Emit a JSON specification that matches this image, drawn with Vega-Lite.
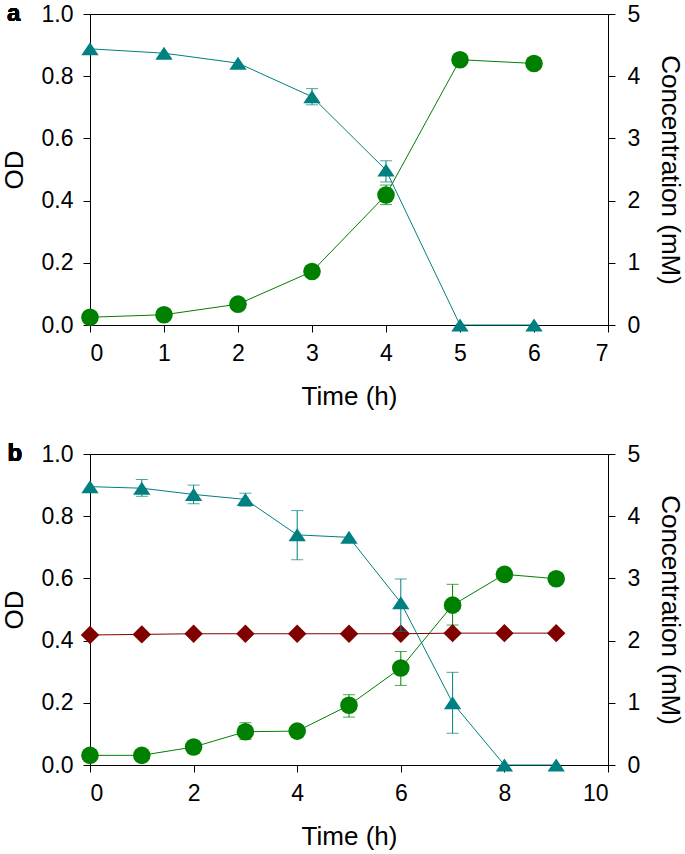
{
  "$schema": "https://vega.github.io/schema/vega-lite/v6.json",
  "background": "white",
  "padding": {"left": 0, "top": 1, "right": 2, "bottom": 2},
  "config": {
    "font": "Liberation Sans",
    "view": {"stroke": "black", "strokeWidth": 1},
    "axis": {
      "grid": false,
      "domainColor": "black",
      "tickColor": "black",
      "labelColor": "black",
      "titleColor": "black",
      "labelFont": "Liberation Sans",
      "titleFont": "Liberation Sans",
      "labelFontSize": 23,
      "titleFontSize": 26,
      "titleFontWeight": "normal",
      "tickSize": 7,
      "labelPadding": 10,
      "domainWidth": 1,
      "tickWidth": 1
    },
    "concat": {"spacing": 31}
  },
  "data": {
    "values": [
      {"panel": "a", "series": "OD", "t": 0, "v": 0.025},
      {"panel": "a", "series": "OD", "t": 1, "v": 0.033},
      {"panel": "a", "series": "OD", "t": 2, "v": 0.067},
      {"panel": "a", "series": "OD", "t": 3, "v": 0.172},
      {"panel": "a", "series": "OD", "t": 4, "v": 0.418, "lo": 0.387, "hi": 0.45},
      {"panel": "a", "series": "OD", "t": 5, "v": 0.853},
      {"panel": "a", "series": "OD", "t": 6, "v": 0.841},
      {"panel": "a", "series": "Substrate", "t": 0, "v": 4.44},
      {"panel": "a", "series": "Substrate", "t": 1, "v": 4.37},
      {"panel": "a", "series": "Substrate", "t": 2, "v": 4.21},
      {"panel": "a", "series": "Substrate", "t": 3, "v": 3.67, "lo": 3.54, "hi": 3.8},
      {"panel": "a", "series": "Substrate", "t": 4, "v": 2.49, "lo": 2.3, "hi": 2.64},
      {"panel": "a", "series": "Substrate", "t": 5, "v": 0},
      {"panel": "a", "series": "Substrate", "t": 6, "v": 0},
      {"panel": "b", "series": "OD", "t": 0, "v": 0.031},
      {"panel": "b", "series": "OD", "t": 1, "v": 0.031},
      {"panel": "b", "series": "OD", "t": 2, "v": 0.058},
      {"panel": "b", "series": "OD", "t": 3, "v": 0.107, "lo": 0.082, "hi": 0.136},
      {"panel": "b", "series": "OD", "t": 4, "v": 0.109},
      {"panel": "b", "series": "OD", "t": 5, "v": 0.192, "lo": 0.154, "hi": 0.226},
      {"panel": "b", "series": "OD", "t": 6, "v": 0.312, "lo": 0.256, "hi": 0.365},
      {"panel": "b", "series": "OD", "t": 7, "v": 0.514, "lo": 0.45, "hi": 0.581},
      {"panel": "b", "series": "OD", "t": 8, "v": 0.613},
      {"panel": "b", "series": "OD", "t": 9, "v": 0.599},
      {"panel": "b", "series": "Substrate", "t": 0, "v": 4.475},
      {"panel": "b", "series": "Substrate", "t": 1, "v": 4.45, "lo": 4.32, "hi": 4.59},
      {"panel": "b", "series": "Substrate", "t": 2, "v": 4.35, "lo": 4.2, "hi": 4.5},
      {"panel": "b", "series": "Substrate", "t": 3, "v": 4.27, "lo": 4.16, "hi": 4.37},
      {"panel": "b", "series": "Substrate", "t": 4, "v": 3.7, "lo": 3.3, "hi": 4.09},
      {"panel": "b", "series": "Substrate", "t": 5, "v": 3.66},
      {"panel": "b", "series": "Substrate", "t": 6, "v": 2.61, "lo": 2.15, "hi": 2.99},
      {"panel": "b", "series": "Substrate", "t": 7, "v": 1.0, "lo": 0.51, "hi": 1.49},
      {"panel": "b", "series": "Substrate", "t": 8, "v": 0},
      {"panel": "b", "series": "Substrate", "t": 9, "v": 0},
      {"panel": "b", "series": "Compound", "t": 0, "v": 2.09},
      {"panel": "b", "series": "Compound", "t": 1, "v": 2.1},
      {"panel": "b", "series": "Compound", "t": 2, "v": 2.11},
      {"panel": "b", "series": "Compound", "t": 3, "v": 2.11},
      {"panel": "b", "series": "Compound", "t": 4, "v": 2.11},
      {"panel": "b", "series": "Compound", "t": 5, "v": 2.11},
      {"panel": "b", "series": "Compound", "t": 6, "v": 2.11},
      {"panel": "b", "series": "Compound", "t": 7, "v": 2.12},
      {"panel": "b", "series": "Compound", "t": 8, "v": 2.12},
      {"panel": "b", "series": "Compound", "t": 9, "v": 2.12}
    ]
  },
  "vconcat": [
    {
      "width": 518,
      "height": 311,
      "transform": [{"filter": "datum.panel == 'a'"}],
      "encoding": {
        "x": {"field": "t", "type": "quantitative", "scale": {"domain": [0, 7], "nice": false, "zero": false},
              "axis": {"title": "Time (h)", "values": [0, 1, 2, 3, 4, 5, 6, 7], "titlePadding": 18}}
      },
      "layer": [
        {
          "transform": [{"filter": "datum.series == 'OD'"}],
          "encoding": {
            "y": {"field": "v", "type": "quantitative", "scale": {"domain": [0, 1], "nice": false},
                  "axis": {"title": "OD", "values": [0, 0.2, 0.4, 0.6, 0.8, 1.0], "format": ".1f", "titlePadding": 14}}
          },
          "layer": [
            {"mark": {"type": "line", "color": "#008000", "strokeWidth": 1}},
            {"transform": [{"filter": "isValid(datum.lo)"}],
             "mark": {"type": "errorbar", "ticks": {"size": 12}, "color": "#008000", "thickness": 1},
             "encoding": {"y": {"field": "lo", "type": "quantitative"}, "y2": {"field": "hi"}}},
            {"mark": {"type": "point", "shape": "circle", "filled": true, "opacity": 1, "size": 310, "color": "#008000"}},
            {"mark": {"type": "text", "text": "a", "fontSize": 24, "fontWeight": "bold", "align": "center", "baseline": "alphabetic", "color": "black"},
             "encoding": {"x": {"datum": -1.03}, "y": {"datum": 0.977}}}
          ]
        },
        {
          "transform": [{"filter": "datum.series == 'Substrate'"}],
          "encoding": {
            "y": {"field": "v", "type": "quantitative", "scale": {"domain": [0, 5], "nice": false},
                  "axis": {"orient": "right", "title": "Concentration (mM)", "values": [0, 1, 2, 3, 4, 5], "labelPadding": 12, "titlePadding": 17}}
          },
          "layer": [
            {"mark": {"type": "line", "color": "#008080", "strokeWidth": 1}},
            {"transform": [{"filter": "isValid(datum.lo)"}],
             "mark": {"type": "errorbar", "ticks": {"size": 12}, "color": "#008080", "thickness": 1},
             "encoding": {"y": {"field": "lo", "type": "quantitative"}, "y2": {"field": "hi"}}},
            {"mark": {"type": "point", "shape": "M0,-0.75L-1,0.75L1,0.75Z", "filled": true, "opacity": 1, "size": 300, "color": "#008080"}}
          ]
        }
      ],
      "resolve": {"scale": {"y": "independent"}}
    },
    {
      "width": 518,
      "height": 311,
      "transform": [{"filter": "datum.panel == 'b'"}],
      "encoding": {
        "x": {"field": "t", "type": "quantitative", "scale": {"domain": [0, 10], "nice": false, "zero": false},
              "axis": {"title": "Time (h)", "values": [0, 2, 4, 6, 8, 10], "titlePadding": 18}}
      },
      "layer": [
        {
          "transform": [{"filter": "datum.series == 'OD'"}],
          "encoding": {
            "y": {"field": "v", "type": "quantitative", "scale": {"domain": [0, 1], "nice": false},
                  "axis": {"title": "OD", "values": [0, 0.2, 0.4, 0.6, 0.8, 1.0], "format": ".1f", "titlePadding": 14}}
          },
          "layer": [
            {"mark": {"type": "line", "color": "#008000", "strokeWidth": 1}},
            {"transform": [{"filter": "isValid(datum.lo)"}],
             "mark": {"type": "errorbar", "ticks": {"size": 12}, "color": "#008000", "thickness": 1},
             "encoding": {"y": {"field": "lo", "type": "quantitative"}, "y2": {"field": "hi"}}},
            {"mark": {"type": "point", "shape": "circle", "filled": true, "opacity": 1, "size": 310, "color": "#008000"}},
            {"mark": {"type": "text", "text": "b", "fontSize": 24, "fontWeight": "bold", "align": "center", "baseline": "alphabetic", "color": "black"},
             "encoding": {"x": {"datum": -1.45}, "y": {"datum": 0.977}}}
          ]
        },
        {
          "transform": [{"filter": "datum.series != 'OD'"}],
          "encoding": {
            "y": {"field": "v", "type": "quantitative", "scale": {"domain": [0, 5], "nice": false},
                  "axis": {"orient": "right", "title": "Concentration (mM)", "values": [0, 1, 2, 3, 4, 5], "labelPadding": 12, "titlePadding": 17}}
          },
          "layer": [
            {"transform": [{"filter": "datum.series == 'Compound'"}], "mark": {"type": "line", "color": "#800000", "strokeWidth": 1}},
            {"transform": [{"filter": "datum.series == 'Substrate'"}], "mark": {"type": "line", "color": "#008080", "strokeWidth": 1}},
            {"transform": [{"filter": "datum.series == 'Compound'"}],
             "mark": {"type": "point", "shape": "diamond", "filled": true, "opacity": 1, "size": 340, "color": "#800000"}},
            {"transform": [{"filter": "isValid(datum.lo)"}],
             "mark": {"type": "errorbar", "ticks": {"size": 12}, "color": "#008080", "thickness": 1},
             "encoding": {"y": {"field": "lo", "type": "quantitative"}, "y2": {"field": "hi"}}},
            {"transform": [{"filter": "datum.series == 'Substrate'"}],
             "mark": {"type": "point", "shape": "M0,-0.75L-1,0.75L1,0.75Z", "filled": true, "opacity": 1, "size": 300, "color": "#008080"}}
          ]
        }
      ],
      "resolve": {"scale": {"y": "independent"}}
    }
  ]
}
